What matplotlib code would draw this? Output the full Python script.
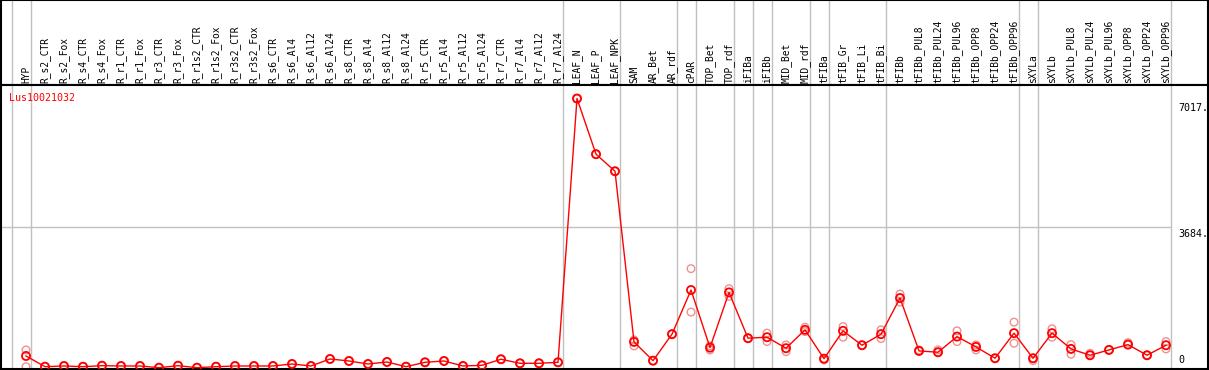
import numpy as np
import matplotlib
matplotlib.use("Agg")
import matplotlib.pyplot as plt
import matplotlib.transforms as mtransforms

# columns (samples) in display order
labels = [
    "HYP",
    "R_s2_CTR", "R_s2_Fox", "R_s4_CTR", "R_s4_Fox", "R_r1_CTR", "R_r1_Fox",
    "R_r3_CTR", "R_r3_Fox", "R_r1s2_CTR", "R_r1s2_Fox", "R_r3s2_CTR", "R_r3s2_Fox",
    "R_s6_CTR", "R_s6_Al4", "R_s6_Al12", "R_s6_Al24",
    "R_s8_CTR", "R_s8_Al4", "R_s8_Al12", "R_s8_Al24",
    "R_r5_CTR", "R_r5_Al4", "R_r5_Al12", "R_r5_Al24",
    "R_r7_CTR", "R_r7_Al4", "R_r7_Al12", "R_r7_Al24",
    "LEAF_N", "LEAF_P", "LEAF_NPK",
    "SAM", "AR_Bet", "AR_rdf",
    "cPAR",
    "TOP_Bet", "TOP_rdf",
    "iFIBa",
    "iFIBb",
    "MID_Bet", "MID_rdf",
    "tFIBa",
    "tFIB_Gr", "tFIB_Li", "tFIB_Bi",
    "tFIBb", "tFIBb_PUL8", "tFIBb_PUL24", "tFIBb_PUL96", "tFIBb_OPP8", "tFIBb_OPP24", "tFIBb_OPP96",
    "sXYLa",
    "sXYLb", "sXYLb_PUL8", "sXYLb_PUL24", "sXYLb_PUL96", "sXYLb_OPP8", "sXYLb_OPP24", "sXYLb_OPP96",
]

# sizes of the sample groups (gray separators drawn after each group)
group_sizes = [1, 28, 3, 3, 1, 2, 1, 1, 2, 1, 3, 7, 1, 7]

gene = "Lus10021032"

# mean expression per column
mean_vals = [
    338,
    60, 78, 60, 86, 78, 78, 34, 86, 34, 60, 78, 78,
    78, 130, 78, 260,
    208, 130, 182, 60,
    174, 208, 78, 96,
    253, 148, 148, 174,
    7017, 5573, 5130,
    703, 216, 904,
    2049,
    555, 1987,
    799,
    825,
    539, 1016,
    268,
    990, 617, 904,
    1841, 469, 435, 841, 573, 279, 930,
    279,
    930, 521, 357, 495, 633, 357, 617,
]

# replicate values (light markers)
rep_a = [
    495,
    60, 78, 60, 86, 78, 78, 34, 86, 34, 60, 78, 78,
    78, 130, 78, 260,
    208, 130, 182, 60,
    174, 208, 78, 96,
    253, 148, 148, 174,
    7017, 5573, 5130,
    755, 216, 904,
    2604,
    599, 2083,
    799,
    930,
    625, 1086,
    234,
    1101, 617, 1016,
    1945, 495, 495, 990, 625, 279, 1216,
    216,
    1042, 633, 409, 495, 685, 357, 711,
]
rep_b = [
    60,
    60, 78, 60, 86, 78, 78, 34, 86, 34, 60, 78, 78,
    78, 130, 78, 260,
    208, 130, 182, 60,
    174, 208, 78, 96,
    253, 148, 148, 174,
    7017, 5573, 5130,
    599, 216, 904,
    1476,
    495, 1883,
    799,
    711,
    450, 971,
    268,
    825, 617, 789,
    1737, 469, 435, 711, 495, 279, 669,
    279,
    825, 383, 357, 495, 633, 357, 521,
]

y_max = 7368
y_mid = 3684

W, H = 1209, 370
fig = plt.figure(figsize=(W / 100, H / 100), dpi=100)

mono = "DejaVu Sans Mono"
x = np.arange(len(labels))
xl = (-1.316, 62.21)

# header with rotated sample names
hax = fig.add_axes([1 / W, (H - 85) / H, 1207 / W, 85 / H])
hax.set_xlim(*xl)
hax.set_ylim(0, 1)
hax.set_xticks([])
hax.set_yticks([])
for s in hax.spines.values():
    s.set_color("black")
    s.set_linewidth(1.5)
for i, lab in enumerate(labels):
    hax.text(i, 0.02, lab, rotation=90, ha="center", va="bottom",
             fontsize=6.9, family=mono, color="black")

# plot area
ax = fig.add_axes([1 / W, 1 / H, 1207 / W, 284 / H])
ax.set_xlim(*xl)
ax.set_ylim(0, y_max)
ax.set_xticks([])
ax.set_yticks([])
for s in ax.spines.values():
    s.set_color("black")
    s.set_linewidth(1.5)

# group separators
seps = [-1 + 0.24] + [c - 1 + 0.24 for c in np.cumsum(group_sizes)]
for sx in seps:
    ax.axvline(sx, color="#c0c0c0", lw=1, zorder=1)
    hax.axvline(sx, color="#c0c0c0", lw=1, zorder=1)
ax.hlines(y_mid, xl[0], seps[-1], color="#c0c0c0", lw=1, zorder=1)

# replicates
ax.scatter(x, rep_a, s=30, facecolors="none", edgecolors="#f09090", lw=1, zorder=2)
ax.scatter(x, rep_b, s=30, facecolors="none", edgecolors="#f09090", lw=1, zorder=2)

# mean line
ax.plot(x, mean_vals, color="red", lw=1, zorder=3)
ax.scatter(x, mean_vals, s=34, facecolors="none", edgecolors="red", lw=1.3, zorder=4)

ax.text(8 / 1207, (369 - 97.7) / 284, gene, transform=ax.transAxes,
        color="red", fontsize=7.2, family=mono, va="center", ha="left")

# right-side value labels
tr = mtransforms.blended_transform_factory(ax.transAxes, ax.transData)
xt = (1178 - 1) / 1207
ax.annotate("7017.", xy=(xt, max(mean_vals)), xycoords=tr, xytext=(0, -4),
            textcoords="offset pixels", va="top", ha="left", fontsize=7.2, family=mono)
ax.annotate("3684.", xy=(xt, y_mid), xycoords=tr, xytext=(0, -2),
            textcoords="offset pixels", va="top", ha="left", fontsize=7.2, family=mono)
ax.annotate("0", xy=(xt, 0), xycoords=tr, xytext=(0, 4),
            textcoords="offset pixels", va="bottom", ha="left", fontsize=7.2, family=mono)

fig.savefig("out.png", dpi=100)
